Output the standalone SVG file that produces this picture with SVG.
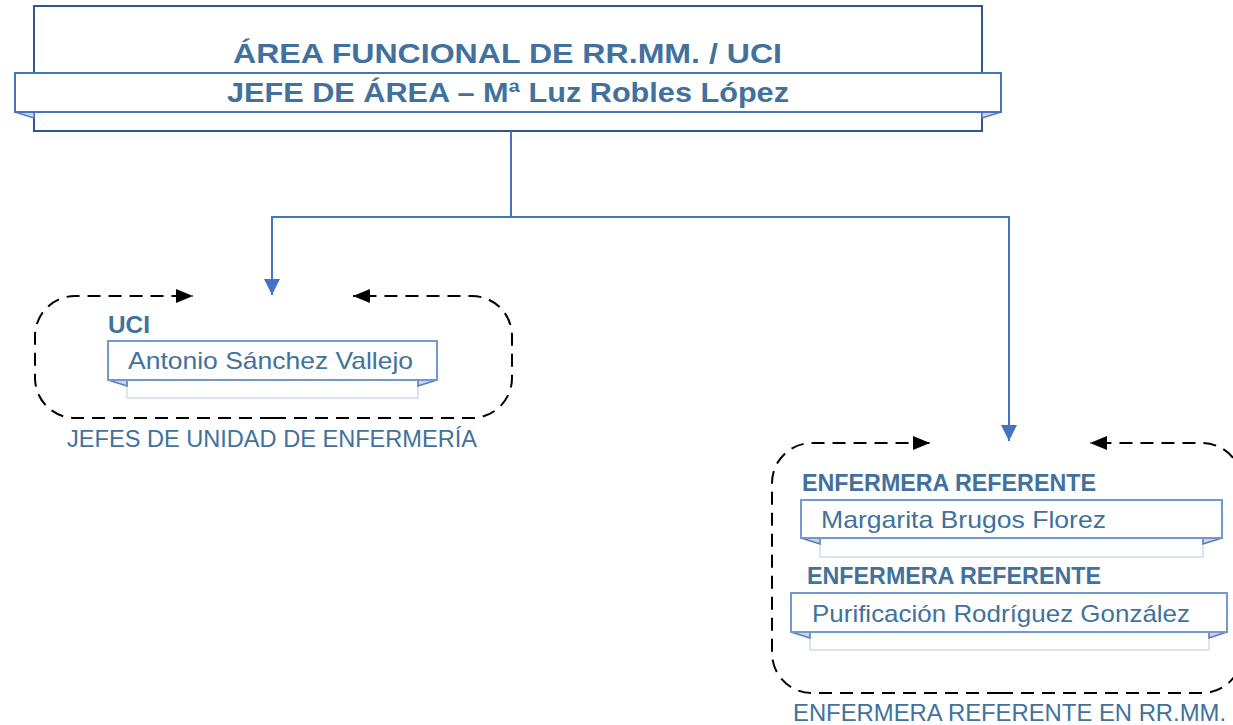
<svg xmlns="http://www.w3.org/2000/svg" width="1233" height="725" viewBox="0 0 1233 725">
<style>
text{font-family:"Liberation Sans",Arial,sans-serif;fill:#41719C}
.b{font-weight:bold}
.name{fill:#fff;stroke:#7399CF;stroke-width:2}
.under{fill:#fff;stroke:#DCE4F2;stroke-width:2}
.fold{fill:#D4D4D4;stroke:#4F7DC4;stroke-width:1.5}
.conn{fill:none;stroke:#4472C4;stroke-width:2}
.loop{fill:none;stroke:#000;stroke-width:2;stroke-dasharray:13 8}
</style>
<defs>
<marker id="ab" markerUnits="userSpaceOnUse" markerWidth="18" markerHeight="18" refX="16" refY="8" orient="auto"><path d="M0,0 L16,8 L0,16 z" fill="#4472C4"/></marker>
<marker id="ak" markerUnits="userSpaceOnUse" markerWidth="18" markerHeight="16" refX="17" refY="7" orient="auto"><path d="M0,0 L17,7 L0,14 z" fill="#000"/></marker>
</defs>
<g id="top">
<rect x="34" y="6" width="948" height="125" fill="#fff" stroke="#2F5597" stroke-width="2"/>
<path class="fold" d="M15,112 L34,112 L34,118 z"/>
<path class="fold" d="M1001,112 L982,112 L982,118 z"/>
<rect x="15" y="73" width="986" height="39" fill="#fff" stroke="#4472C4" stroke-width="2"/>
<text class="b" x="233" y="63" font-size="28" textLength="549" lengthAdjust="spacingAndGlyphs">ÁREA FUNCIONAL DE RR.MM. / UCI</text>
<text class="b" x="227" y="102" font-size="27" textLength="562" lengthAdjust="spacingAndGlyphs">JEFE DE ÁREA – Mª Luz Robles López</text>
</g>
<g id="connectors">
<path class="conn" d="M511,131 V217 H272 V295" marker-end="url(#ab)"/>
<path class="conn" d="M511,217 H1009 V441" marker-end="url(#ab)"/>
<path class="loop" d="M273,418 H75 A40,40 0 0 1 35,378 V336 A40,40 0 0 1 75,296 H193" marker-end="url(#ak)"/>
<path class="loop" d="M273,418 H472 A40,40 0 0 0 512,378 V336 A40,40 0 0 0 472,296 H353" marker-end="url(#ak)"/>
<path class="loop" d="M1000,693 H812 A40,40 0 0 1 772,653 V483 A40,40 0 0 1 812,443 H930" marker-end="url(#ak)"/>
<path class="loop" d="M1000,693 H1202 A40,40 0 0 0 1242,653 V483 A40,40 0 0 0 1202,443 H1090" marker-end="url(#ak)"/>
</g>
<g id="uci">
<text class="b" x="108" y="333" font-size="23" textLength="42" lengthAdjust="spacingAndGlyphs">UCI</text>
<rect class="under" x="127" y="380" width="291" height="18"/>
<path class="fold" d="M108,380 L127,380 L127,386 z"/>
<path class="fold" d="M437,380 L418,380 L418,386 z"/>
<rect class="name" x="108" y="341" width="329" height="39"/>
<text x="128" y="369" font-size="24" textLength="285" lengthAdjust="spacingAndGlyphs">Antonio Sánchez Vallejo</text>
<text x="67" y="447" font-size="24" textLength="410" lengthAdjust="spacingAndGlyphs">JEFES DE UNIDAD DE ENFERMERÍA</text>
</g>
<g id="referentes">
<text class="b" x="802" y="491" font-size="24" textLength="294" lengthAdjust="spacingAndGlyphs">ENFERMERA REFERENTE</text>
<rect class="under" x="820" y="538" width="383" height="19"/>
<path class="fold" d="M801,538 L820,538 L820,544 z"/>
<path class="fold" d="M1222,538 L1203,538 L1203,544 z"/>
<rect class="name" x="801" y="500" width="421" height="38"/>
<text x="821" y="528" font-size="24" textLength="285" lengthAdjust="spacingAndGlyphs">Margarita Brugos Florez</text>
<text class="b" x="807" y="584" font-size="24" textLength="294" lengthAdjust="spacingAndGlyphs">ENFERMERA REFERENTE</text>
<rect class="under" x="810" y="632" width="399" height="18"/>
<path class="fold" d="M791,632 L810,632 L810,638 z"/>
<path class="fold" d="M1227,632 L1209,632 L1209,638 z"/>
<rect class="name" x="791" y="593" width="436" height="39"/>
<text x="812" y="622" font-size="24" textLength="378" lengthAdjust="spacingAndGlyphs">Purificación Rodríguez González</text>
<text x="793" y="721" font-size="24" textLength="433" lengthAdjust="spacingAndGlyphs">ENFERMERA REFERENTE EN RR.MM.</text>
</g>
</svg>
